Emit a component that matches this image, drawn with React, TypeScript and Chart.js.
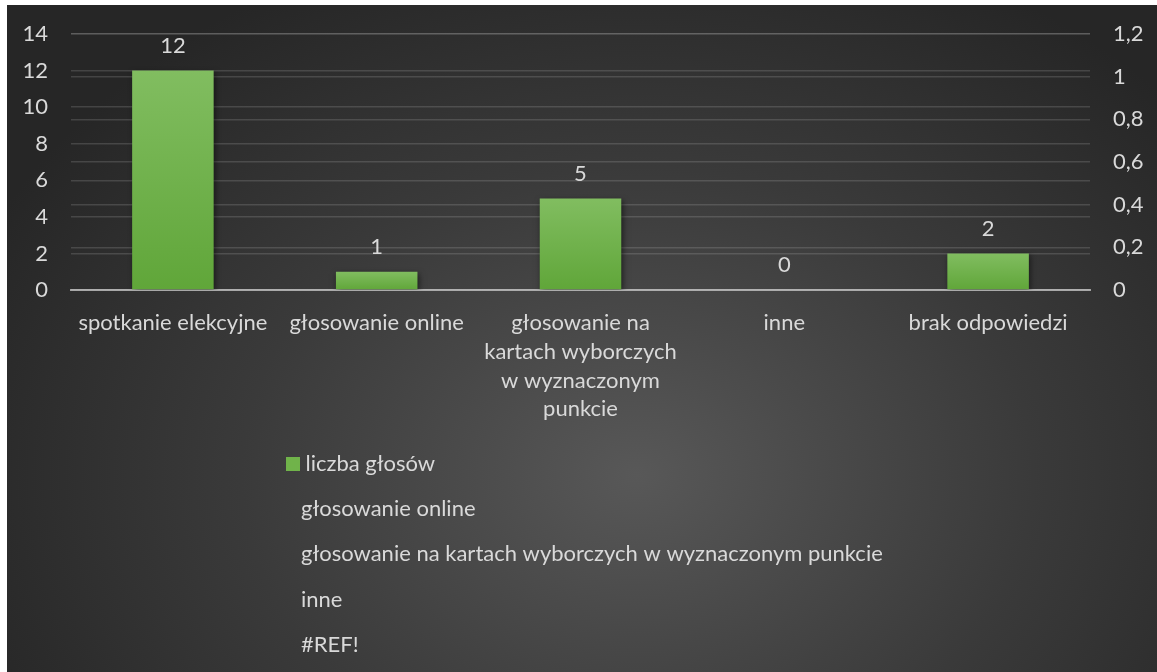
import React, { useEffect, useRef } from "react";
import { Chart, registerables } from "chart.js";

Chart.register(...registerables);

const categories: string[][] = [
  ["spotkanie elekcyjne"],
  ["głosowanie online"],
  ["głosowanie na", "kartach wyborczych", "w wyznaczonym", "punkcie"],
  ["inne"],
  ["brak odpowiedzi"],
];
const votes: number[] = [12, 1, 5, 0, 2];
const mainSeriesName = "liczba głosów";
const extraSeriesNames: string[] = [
  "głosowanie online",
  "głosowanie na kartach wyborczych w wyznaczonym punkcie",
  "inne",
  "#REF!",
];
const leftTicks = { min: 0, max: 14, step: 2 };
const rightTicks = { min: 0, max: 1.2, step: 0.2 };

const FONT = "Lato";
const FS = 22;
const TXT = "#d9d9d9";
const GRID = "rgba(217,217,217,0.17)";

const labelsPlugin = {
  id: "valueLabels",
  afterDatasetsDraw(chart: any) {
    const meta = chart.getDatasetMeta(0);
    const ctx = chart.ctx;
    ctx.save();
    ctx.fillStyle = TXT;
    ctx.font = `${FS}px ${FONT}`;
    ctx.textAlign = "center";
    ctx.textBaseline = "middle";
    meta.data.forEach((bar: any, i: number) => {
      const v = chart.data.datasets[0].data[i];
      ctx.fillText(String(v), bar.x, bar.y - 25);
    });
    ctx.restore();
  },
};

const shadowPlugin = {
  id: "barShadow",
  beforeDatasetDraw(chart: any, args: any) {
    if (args.index !== 0) return;
    const ctx = chart.ctx;
    ctx.save();
    ctx.shadowColor = "rgba(0,0,0,0.55)";
    ctx.shadowBlur = 6;
    ctx.shadowOffsetX = 1.5;
    ctx.shadowOffsetY = 2;
  },
  afterDatasetDraw(chart: any, args: any) {
    if (args.index !== 0) return;
    chart.ctx.restore();
  },
};

const legendPlugin = {
  id: "listLegend",
  afterDraw(chart: any) {
    const ctx = chart.ctx;
    ctx.save();
    ctx.font = `${FS}px ${FONT}`;
    ctx.textBaseline = "middle";
    ctx.textAlign = "left";
    const startY = 459;
    const step = 45.2;
    chart.data.datasets.forEach((ds: any, i: number) => {
      const y = startY + i * step;
      if (i === 0) {
        ctx.fillStyle = "#70b34a";
        ctx.fillRect(279, y - 7, 14, 14);
        ctx.fillStyle = TXT;
        ctx.fillText(ds.label, 298.5, y);
      } else {
        ctx.fillStyle = TXT;
        ctx.fillText(ds.label, 294, y);
      }
    });
    ctx.restore();
  },
};

export default function App() {
  const ref = useRef<HTMLCanvasElement>(null);
  useEffect(() => {
    if (!ref.current) return;
    const barColor = (c: any) => {
      const chart = c.chart;
      const y = chart.scales && chart.scales.y;
      if (!y || c.raw == null || c.raw === 0) return "#6aad45";
      const top = y.getPixelForValue(c.raw);
      const bot = y.getPixelForValue(0);
      if (!isFinite(top) || !isFinite(bot) || top === bot) return "#6aad45";
      const g = chart.ctx.createLinearGradient(0, top, 0, bot);
      g.addColorStop(0, "#81bd60");
      g.addColorStop(1, "#60a639");
      return g;
    };
    const datasets: any[] = [
      {
        label: mainSeriesName,
        data: votes,
        yAxisID: "y",
        backgroundColor: barColor,
        borderWidth: 0,
        barPercentage: 0.4,
        categoryPercentage: 1,
        grouped: false,
      },
      ...extraSeriesNames.map((n) => ({
        label: n,
        data: categories.map(() => null),
        yAxisID: "y1",
        backgroundColor: "transparent",
        grouped: false,
      })),
    ];
    const chart = new Chart(ref.current, {
      type: "bar",
      data: { labels: categories, datasets },
      options: {
        animation: false,
        responsive: false,
        maintainAspectRatio: false,
        layout: { autoPadding: false, padding: { top: 29, left: 0, right: 0, bottom: 0 } },
        plugins: { legend: { display: false }, tooltip: { enabled: false } },
        scales: {
          x: {
            grid: { display: false, drawTicks: false },
            border: { display: true, color: "rgba(200,200,200,0.75)", width: 2 },
            ticks: {
              color: TXT,
              font: { family: FONT, size: FS, lineHeight: 1.3 },
              padding: 19,
              maxRotation: 0,
              autoSkip: false,
            },
            afterFit(s: any) {
              s.height = 382;
              s.paddingLeft = 0;
              s.paddingRight = 0;
            },
          },
          y: {
            position: "left",
            min: leftTicks.min,
            max: leftTicks.max,
            ticks: {
              stepSize: leftTicks.step,
              color: TXT,
              font: { family: FONT, size: FS },
              padding: 23,
            },
            grid: { color: GRID, lineWidth: 1.5, drawTicks: false },
            border: { display: false },
            afterFit(s: any) {
              s.width = 64;
              s.paddingTop = 0;
              s.paddingBottom = 0;
            },
          },
          y1: {
            position: "right",
            min: rightTicks.min,
            max: rightTicks.max,
            ticks: {
              stepSize: rightTicks.step,
              color: TXT,
              font: { family: FONT, size: FS },
              padding: 23,
              callback: (v: any) => String(Math.round(Number(v) * 10) / 10).replace(".", ","),
            },
            grid: { color: GRID, lineWidth: 1.5, drawTicks: false },
            border: { display: false },
            afterFit(s: any) {
              s.width = 67;
              s.paddingTop = 0;
              s.paddingBottom = 0;
            },
          },
        },
      } as any,
      plugins: [shadowPlugin, labelsPlugin, legendPlugin],
    });
    return () => chart.destroy();
  }, []);
  return (
    <div
      style={{
        position: "fixed",
        left: 7,
        top: 5,
        width: 1150,
        height: 667,
        background:
          "radial-gradient(ellipse 720px 560px at 630px 470px, #585858 0%, #3a3a3a 55%, #262626 100%)",
      }}
    >
      <canvas ref={ref} width={1150} height={667} style={{ display: "block" }} />
    </div>
  );
}
